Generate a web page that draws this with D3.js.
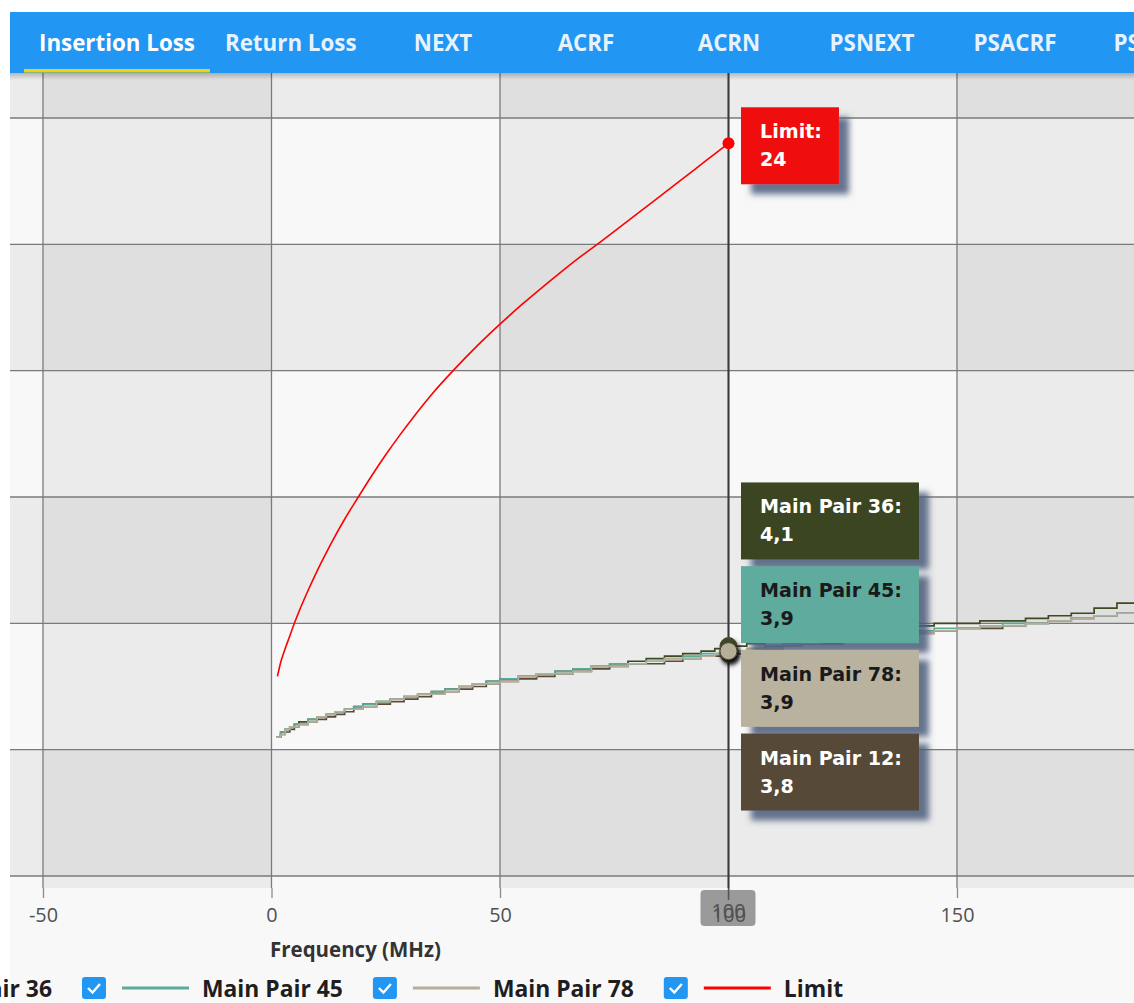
<!DOCTYPE html>
<html>
<head>
<meta charset="utf-8">
<script src="https://cdn.jsdelivr.net/npm/d3@7"></script>
<style>
  html, body { margin: 0; padding: 0; background: #ffffff; }
  svg { display: block; }
</style>
</head>
<body>
<svg id="chart" width="1134" height="1003"></svg>
<script>
// ---------------- data ----------------
const tabLabels = ["Insertion Loss", "Return Loss", "NEXT", "ACRF", "ACRN", "PSNEXT", "PSACRF", "PSACRN"];
const activeTab = "Insertion Loss";

const xTicks = [-50, 0, 50, 100, 150];
const yGrid = [-5, 0, 5, 10, 15, 20, 25];
const cursorFreq = 100;
const xTitle = "Frequency (MHz)";

// measured insertion loss (dB), sampled at these frequencies (MHz)
const freqMHz = [1, 2, 3, 4, 5, 6, 8, 10, 12, 14, 16, 18, 20, 23, 26, 29, 32, 35, 38, 41, 44, 47, 50,
  54, 58, 62, 66, 70, 74, 78, 82, 86, 90, 94, 97, 100, 104, 108, 112, 116, 120,
  125, 130, 135, 140, 145, 150, 155, 160, 165, 170, 175, 180, 185, 190, 195, 200];

const pair12 = [0.5, 0.6, 0.7, 0.8, 0.9, 1.0, 1.1, 1.2, 1.3, 1.4, 1.5, 1.6, 1.7, 1.8, 1.9, 2.0, 2.1, 2.2, 2.3, 2.4, 2.5, 2.6, 2.7,
  2.8, 2.9, 3.0, 3.1, 3.2, 3.3, 3.4, 3.4, 3.5, 3.6, 3.7, 3.7, 3.8, 3.9, 4.0, 4.1, 4.2, 4.2,
  4.3, 4.4, 4.5, 4.6, 4.7, 4.8, 4.8, 4.9, 5.0, 5.1, 5.2, 5.3, 5.4, 5.5, 5.6, 5.7];
const pair36 = [0.5, 0.7, 0.8, 0.9, 1.0, 1.1, 1.2, 1.3, 1.4, 1.5, 1.6, 1.7, 1.8, 1.9, 2.0, 2.1, 2.2, 2.3, 2.4, 2.5, 2.6, 2.7, 2.8,
  2.9, 3.0, 3.1, 3.2, 3.3, 3.4, 3.5, 3.6, 3.7, 3.8, 3.9, 4.0, 4.1, 4.2, 4.3, 4.3, 4.4, 4.5,
  4.6, 4.7, 4.8, 4.9, 5.0, 5.0, 5.1, 5.1, 5.2, 5.3, 5.4, 5.6, 5.8, 6.0, 6.1, 6.3];
const pair45 = [0.5, 0.7, 0.8, 0.9, 1.0, 1.0, 1.2, 1.3, 1.4, 1.5, 1.6, 1.7, 1.8, 1.9, 2.0, 2.1, 2.2, 2.3, 2.4, 2.5, 2.6, 2.7, 2.8,
  2.9, 3.0, 3.1, 3.2, 3.3, 3.4, 3.4, 3.5, 3.6, 3.7, 3.8, 3.8, 3.9, 4.0, 4.1, 4.2, 4.2, 4.3,
  4.4, 4.5, 4.6, 4.7, 4.8, 4.8, 4.9, 5.0, 5.0, 5.1, 5.2, 5.3, 5.4, 5.6, 5.7, 5.8];
const pair78 = [0.5, 0.6, 0.8, 0.9, 0.9, 1.0, 1.1, 1.3, 1.4, 1.5, 1.6, 1.6, 1.7, 1.9, 2.0, 2.1, 2.2, 2.2, 2.3, 2.5, 2.6, 2.6, 2.7,
  2.9, 3.0, 3.0, 3.1, 3.3, 3.3, 3.4, 3.5, 3.6, 3.6, 3.7, 3.8, 3.9, 4.0, 4.0, 4.1, 4.2, 4.3,
  4.4, 4.5, 4.5, 4.6, 4.7, 4.8, 4.9, 4.9, 5.0, 5.1, 5.2, 5.3, 5.4, 5.5, 5.6, 5.7];

// limit curve (dB)
const limitFreq = [1.3, 2, 3, 4, 5, 6, 8, 10, 12, 14, 16, 19, 22, 25, 28, 31, 35, 40, 45, 50,
  55, 60, 66, 72, 78, 84, 90, 95, 100];
const limitLoss = [2.9, 3.45, 4.0, 4.5, 5.0, 5.46, 6.3, 7.08, 7.8, 8.48, 9.12, 10.0, 10.86, 11.67, 12.43, 13.15, 14.05, 15.05, 15.98, 16.84,
  17.65, 18.41, 19.29, 20.1, 20.93, 21.76, 22.6, 23.3, 24.0];

const pairNames = ["Main Pair 12", "Main Pair 36", "Main Pair 45", "Main Pair 78"];
const pairValues = [pair12, pair36, pair45, pair78];
const pairColors = ["#5a4a3a", "#3d4a22", "#5aab9b", "#b5ae98"];
const pairTipColors = ["#574838", "#3b4521", "#5fab9d", "#b9b29e"];
const pairTipText = ["#ffffff", "#ffffff", "#1a1a1a", "#1a1a1a"];
const limitName = "Limit";
const limitColor = "#ff0000";
const limitTipColor = "#f01111";

// ---------------- layout ----------------
const W = 1134, H = 1003;
const frame = { left: 10, top: 12 };
const tabBar = { top: 12, bottom: 73, left: 10 };
const plot = { left: 10, right: 1134, top: 73, bottom: 888 };

const svg = d3.select("#chart");
const defs = svg.append("defs");

const UI_FONT = "'Open Sans', 'Noto Sans', sans-serif";
const TIP_FONT = "'DejaVu Sans', sans-serif";

function measure(txt, family, weight, size) {
  const t = svg.append("text").attr("font-family", family).attr("font-weight", weight)
    .attr("font-size", size).text(txt);
  const w = t.node().getComputedTextLength();
  t.remove();
  return w;
}
function fitSize(txt, family, weight, target) {
  return 20 * target / measure(txt, family, weight, 20);
}

const commaFmt = d3.formatLocale({ decimal: ",", thousands: ".", grouping: [3], currency: ["", ""] }).format(".1~f");
const tickFmt = d => String(d);

const x = d3.scaleLinear().domain([-50, 150]).range([43, 957]);
const y = d3.scaleLinear().domain([-5, 25]).range([876, 118]);

// filters
const sh = defs.append("filter").attr("id", "tipShadow")
  .attr("x", "-20%").attr("y", "-30%").attr("width", "150%").attr("height", "170%");
sh.append("feDropShadow").attr("dx", 10).attr("dy", 10).attr("stdDeviation", 3)
  .attr("flood-color", "#4c5b7a").attr("flood-opacity", 0.85);
const dsh = defs.append("filter").attr("id", "dotShadow")
  .attr("x", "-60%").attr("y", "-60%").attr("width", "240%").attr("height", "240%");
dsh.append("feDropShadow").attr("dx", 2).attr("dy", 3).attr("stdDeviation", 2)
  .attr("flood-color", "#000").attr("flood-opacity", 0.6);

defs.append("clipPath").attr("id", "plotClip").append("rect")
  .attr("x", plot.left).attr("y", plot.top)
  .attr("width", plot.right - plot.left).attr("height", plot.bottom - plot.top);

const tabGrad = defs.append("linearGradient").attr("id", "tabShade").attr("x1", 0).attr("y1", 0).attr("x2", 0).attr("y2", 1);
tabGrad.append("stop").attr("offset", 0).attr("stop-color", "#000").attr("stop-opacity", 0.22);
tabGrad.append("stop").attr("offset", 1).attr("stop-color", "#000").attr("stop-opacity", 0);

// component background
svg.append("rect").attr("x", frame.left).attr("y", frame.top)
  .attr("width", W - frame.left).attr("height", H - frame.top).attr("fill", "#f8f8f8");

// ---------------- plot area ----------------
const plotG = svg.append("g").attr("clip-path", "url(#plotClip)");

// alternating bands, horizontal and vertical, layered
const colStep = 50, rowStep = 5;
d3.range(-3, 5).forEach(k => {
  if (Math.abs(k) % 2 === 1) {
    plotG.append("rect").attr("x", x(k * colStep)).attr("y", plot.top)
      .attr("width", x((k + 1) * colStep) - x(k * colStep)).attr("height", plot.bottom - plot.top)
      .attr("fill", "#000").attr("fill-opacity", 0.052);
  }
});
d3.range(-3, 7).forEach(k => {
  if (Math.abs(k) % 2 === 1) {
    plotG.append("rect").attr("x", plot.left).attr("y", y((k + 1) * rowStep))
      .attr("width", plot.right - plot.left).attr("height", y(k * rowStep) - y((k + 1) * rowStep))
      .attr("fill", "#000").attr("fill-opacity", 0.052);
  }
});

// grid lines
plotG.selectAll("line.vgrid").data(xTicks).join("line").attr("class", "vgrid")
  .attr("x1", d => x(d)).attr("x2", d => x(d)).attr("y1", plot.top).attr("y2", plot.bottom)
  .attr("stroke", "#7a7a7a").attr("stroke-width", 1.3);
plotG.selectAll("line.hgrid").data(yGrid).join("line").attr("class", "hgrid")
  .attr("x1", plot.left).attr("x2", plot.right).attr("y1", d => y(d)).attr("y2", d => y(d))
  .attr("stroke", "#7a7a7a").attr("stroke-width", 1.3);

// series lines
const pairLine = d3.line().x(d => x(d[0])).y(d => y(d[1])).curve(d3.curveStepAfter);
pairValues.forEach((vals, i) => {
  plotG.append("path")
    .datum(d3.zip(freqMHz, vals))
    .attr("d", pairLine)
    .attr("fill", "none").attr("stroke", pairColors[i]).attr("stroke-width", 1.7);
});
const limitLine = d3.line().x(d => x(d[0])).y(d => y(d[1])).curve(d3.curveMonotoneX);
plotG.append("path")
  .datum(d3.zip(limitFreq, limitLoss))
  .attr("d", limitLine)
  .attr("fill", "none").attr("stroke", limitColor).attr("stroke-width", 1.6);

// tab bar shadow on the plot
svg.append("rect").attr("x", plot.left).attr("y", plot.top).attr("width", plot.right - plot.left)
  .attr("height", 7).attr("fill", "url(#tabShade)");

// cursor line
const cx = x(cursorFreq);
svg.append("line").attr("x1", cx).attr("x2", cx).attr("y1", plot.top).attr("y2", plot.bottom)
  .attr("stroke", "#3a3a3a").attr("stroke-width", 2);

// ---------------- x axis ----------------
const tickFont = fitSize("150", UI_FONT, 400, 34);

// cursor label box on the axis (behind the tick labels)
svg.append("rect").attr("x", cx - 28).attr("y", plot.bottom + 2).attr("width", 55).attr("height", 36)
  .attr("rx", 4).attr("fill", "#9a9a9a");

const axisG = svg.append("g").attr("transform", `translate(0,${plot.bottom})`)
  .call(d3.axisBottom(x).tickValues(xTicks).tickSize(10).tickPadding(10).tickFormat(tickFmt));
axisG.select(".domain").remove();
axisG.selectAll(".tick line").attr("stroke", "#8a8a8a").attr("stroke-width", 1.3);
axisG.selectAll(".tick text").attr("font-family", UI_FONT).attr("font-size", tickFont)
  .attr("fill", "#505050").attr("y", 34).attr("dy", 0);

svg.append("line").attr("x1", cx).attr("x2", cx).attr("y1", plot.bottom).attr("y2", plot.bottom + 12)
  .attr("stroke", "#555").attr("stroke-width", 1.5);
svg.append("text").attr("x", cx).attr("y", plot.bottom + 30).attr("text-anchor", "middle")
  .attr("font-family", UI_FONT).attr("font-size", tickFont).attr("fill", "#505050")
  .text(tickFmt(cursorFreq));

const titleFont = fitSize(xTitle, UI_FONT, 700, 171);
svg.append("text").attr("x", 355.5).attr("y", 957).attr("text-anchor", "middle")
  .attr("font-family", UI_FONT).attr("font-weight", 700).attr("font-size", titleFont)
  .attr("fill", "#333333").text(xTitle);

// ---------------- tab bar ----------------
svg.append("rect").attr("x", tabBar.left).attr("y", tabBar.top)
  .attr("width", W - tabBar.left).attr("height", tabBar.bottom - tabBar.top).attr("fill", "#2196f3");
const tabFont = fitSize("Insertion Loss", UI_FONT, 700, 156);
let tx = 24;
tabLabels.forEach(label => {
  const tw = measure(label, UI_FONT, 700, tabFont);
  const w = Math.max(143, tw + 30);
  svg.append("text").attr("x", tx + w / 2).attr("y", 51).attr("text-anchor", "middle")
    .attr("font-family", UI_FONT).attr("font-weight", 700).attr("font-size", tabFont)
    .attr("fill", label === activeTab ? "#ffffff" : "#e6f2fd").text(label);
  if (label === activeTab) {
    svg.append("rect").attr("x", tx).attr("y", 69).attr("width", w).attr("height", 3.5).attr("fill", "#f3d10a");
  }
  tx += w;
});

// ---------------- legend ----------------
const legFont = fitSize("Main Pair 45", UI_FONT, 700, 141);
const legendItems = pairNames.map((n, i) => ({ name: n, color: pairColors[i] }))
  .concat([{ name: limitName, color: limitColor }]);
const boxW = 24, gap1 = 16, lineW = 67, gap2 = 13, gap3 = 30;
const itemW = legendItems.map(d => boxW + gap1 + lineW + gap2 + measure(d.name, UI_FONT, 700, legFont) + gap3);
// legend row is scrolled so the third entry's checkbox sits at x = 82
let lx = 82 - itemW[0] - itemW[1];
const legY = 988;
legendItems.forEach((d, i) => {
  const g = svg.append("g").attr("transform", `translate(${lx},0)`);
  g.append("rect").attr("x", 0).attr("y", legY - 11).attr("width", boxW).attr("height", 22)
    .attr("rx", 3).attr("fill", "#2196f3");
  g.append("path").attr("d", `M6,${legY} L10.5,${legY + 4.5} L18,${legY - 4}`)
    .attr("fill", "none").attr("stroke", "#fff").attr("stroke-width", 2.4);
  g.append("line").attr("x1", boxW + gap1).attr("x2", boxW + gap1 + lineW)
    .attr("y1", legY).attr("y2", legY).attr("stroke", d.color).attr("stroke-width", 3);
  g.append("text").attr("x", boxW + gap1 + lineW + gap2).attr("y", legY + 9)
    .attr("font-family", UI_FONT).attr("font-weight", 700).attr("font-size", legFont)
    .attr("fill", "#1e1e1e").text(d.name);
  lx += itemW[i];
});

// ---------------- cursor markers and tooltips ----------------
const ci = freqMHz.indexOf(cursorFreq);
const li = limitFreq.indexOf(cursorFreq);

const tipFont = fitSize("Main Pair 36:", TIP_FONT, 700, 142);
function tooltip(x0, y0, w, h, fill, textFill, label, value) {
  const g = svg.append("g");
  g.append("rect").attr("x", x0).attr("y", y0).attr("width", w).attr("height", h)
    .attr("fill", fill).attr("filter", "url(#tipShadow)");
  g.append("text").attr("x", x0 + 19).attr("y", y0 + 31)
    .attr("font-family", TIP_FONT).attr("font-weight", 700).attr("font-size", tipFont)
    .attr("fill", textFill).text(label + ":");
  g.append("text").attr("x", x0 + 19).attr("y", y0 + 59)
    .attr("font-family", TIP_FONT).attr("font-weight", 700).attr("font-size", tipFont)
    .attr("fill", textFill).text(commaFmt(value));
}

// markers
const pairAt = pairValues.map((v, i) => ({ i, name: pairNames[i], value: v[ci] }));
pairAt.forEach(d => {
  svg.append("circle").attr("cx", cx).attr("cy", y(d.value)).attr("r", 8.5)
    .attr("fill", pairColors[d.i]).attr("stroke", "#4a4535").attr("stroke-width", 1)
    .attr("filter", "url(#dotShadow)");
});
svg.append("circle").attr("cx", cx).attr("cy", y(limitLoss[li])).attr("r", 6).attr("fill", limitColor);

// limit tooltip
const tipH = 77, tipGap = 6.7, tipDX = 12.5;
const limW = measure(limitName + ":", TIP_FONT, 700, tipFont) + 36;
tooltip(cx + tipDX, y(limitLoss[li]) - 36, limW, tipH, limitTipColor, "#ffffff", limitName, limitLoss[li]);

// stacked pair tooltips, highest value first
const sorted = d3.sort(pairAt, (a, b) => b.value - a.value);
const pairW = d3.max(sorted, d => measure(d.name + ":", TIP_FONT, 700, tipFont)) + 36;
const stackH = sorted.length * tipH + (sorted.length - 1) * tipGap;
const meanY = d3.mean(sorted, d => y(d.value));
const stackTop = meanY - stackH / 2 - 4;
sorted.forEach((d, k) => {
  tooltip(cx + tipDX, stackTop + k * (tipH + tipGap), pairW, tipH,
    pairTipColors[d.i], pairTipText[d.i], d.name, d.value);
});
</script>
</body>
</html>
